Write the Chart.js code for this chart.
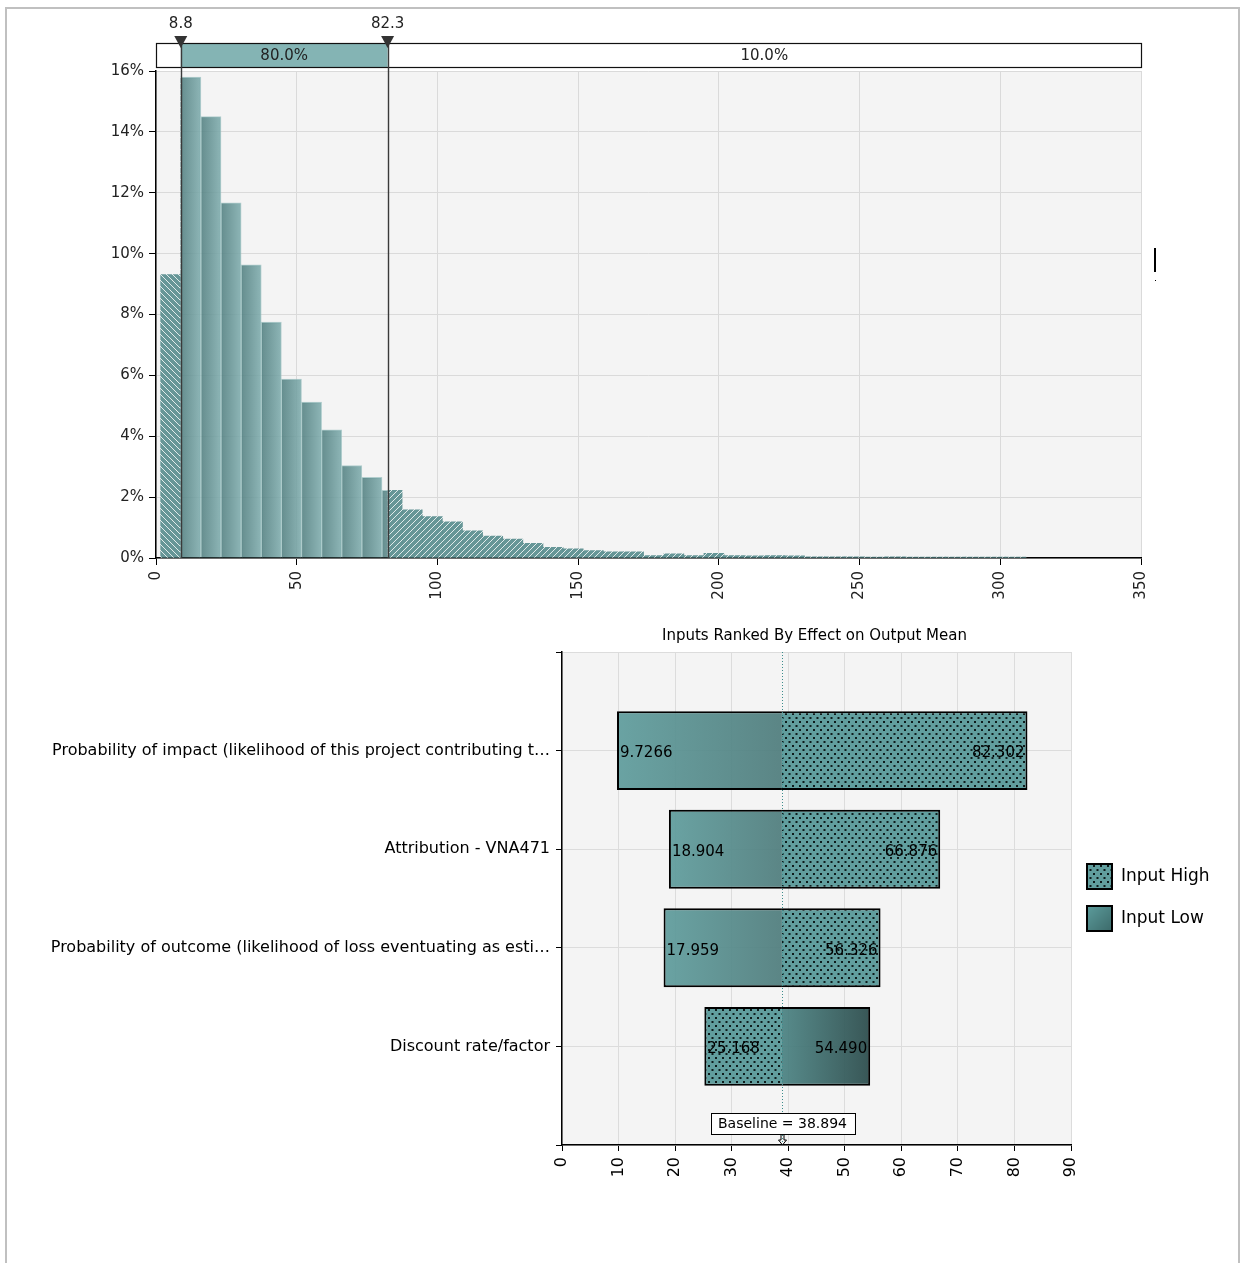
<!DOCTYPE html>
<html>
<head>
<meta charset="utf-8">
<script src="https://cdn.jsdelivr.net/npm/chart.js@4.4.1/dist/chart.umd.min.js"></script>
<style>
  body { margin: 0; background: #fff; width: 1240px; height: 1263px; overflow: hidden; position: relative; }
  #frame { position: absolute; left: 5px; top: 7px; width: 1231px; height: 1300px;
           border-top: 2px solid #c0c0c0; border-left: 2px solid #c0c0c0; border-right: 2px solid #c0c0c0; }
  #histWrap { position: absolute; left: 0; top: 0; }
  #tornadoWrap { position: absolute; left: 0; top: 600px; }
</style>
</head>
<body>
<div id="frame"></div>
<div id="histWrap"><canvas id="hist" width="1240" height="615"></canvas></div>
<div id="tornadoWrap"><canvas id="tornado" width="1240" height="600"></canvas></div>
<script>
// ---- histogram data (percent of iterations per bin) ----
var binStart = 1.65;
var binWidth = 7.15;
var binPercents = [9.31, 15.8, 14.5, 11.67, 9.63, 7.75, 5.88, 5.12, 4.21, 3.04, 2.65, 2.22,
                   1.58, 1.36, 1.19, 0.89, 0.72, 0.62, 0.48, 0.35, 0.30, 0.24, 0.20, 0.20,
                   0.08, 0.14, 0.08, 0.15, 0.08, 0.07, 0.08, 0.07, 0.04, 0.04, 0.04, 0.03,
                   0.04, 0.03, 0.03, 0.03, 0.03, 0.03, 0.03];
var cutoffs = [8.8, 82.3];
var bandLabels = ['', '80.0%', '10.0%'];

// ---- tornado data ----
var inputNames = [
  'Probability of impact (likelihood of this project contributing t\u2026',
  'Attribution - VNA471',
  'Probability of outcome (likelihood of loss eventuating as esti\u2026',
  'Discount rate/factor'
];
var lowOutputs = [9.7266, 18.904, 17.959, 54.490];
var highOutputs = [82.302, 66.876, 56.326, 25.168];
var baseline = 38.894;

var FONT = '"DejaVu Sans", Verdana, sans-serif';

// fills
function makeHatch(ctx, dir) {
  var c = document.createElement('canvas');
  c.width = 6; c.height = 6;
  var g = c.getContext('2d');
  g.fillStyle = 'rgba(86,140,141,0.9)';
  g.fillRect(0, 0, 6, 6);
  g.strokeStyle = 'rgba(255,255,255,0.8)';
  g.lineWidth = 1;
  g.beginPath();
  if (dir > 0) {
    g.moveTo(0, 6); g.lineTo(6, 0);
    g.moveTo(-1, 1); g.lineTo(1, -1);
    g.moveTo(5, 7); g.lineTo(7, 5);
  } else {
    g.moveTo(0, 0); g.lineTo(6, 6);
    g.moveTo(-1, 5); g.lineTo(1, 7);
    g.moveTo(5, -1); g.lineTo(7, 1);
  }
  g.stroke();
  return ctx.createPattern(c, 'repeat');
}

function makeDots(ctx) {
  var c = document.createElement('canvas');
  c.width = 7; c.height = 8;
  var g = c.getContext('2d');
  g.fillStyle = 'rgba(84,150,150,0.92)';
  g.fillRect(0, 0, 7, 8);
  g.fillStyle = '#0e1c1c';
  g.fillRect(1, 1, 2, 2);
  g.fillRect(4.5, 5, 2, 2);
  return ctx.createPattern(c, 'repeat');
}

// horizontal gradient between two pixel positions, or null before layout
function hGradient(ctx, l, r, c0, c1) {
  if (!isFinite(l) || !isFinite(r) || l === r) return null;
  var g = ctx.createLinearGradient(l, 0, r, 0);
  g.addColorStop(0, c0);
  g.addColorStop(1, c1);
  return g;
}

// plot area background
var plotBackground = {
  id: 'plotBackground',
  beforeDraw: function(chart) {
    var a = chart.chartArea, ctx = chart.ctx;
    ctx.save();
    ctx.fillStyle = '#f4f4f4';
    ctx.fillRect(a.left, a.top, a.right - a.left, a.bottom - a.top);
    ctx.restore();
  }
};

// ================= histogram =================
var histCtx = document.getElementById('hist').getContext('2d');
var hatchLeft = makeHatch(histCtx, -1);
var hatchRight = makeHatch(histCtx, 1);

var binCenters = binPercents.map(function(v, i) { return binStart + binWidth * (i + 0.5); });
var histPoints = binPercents.map(function(v, i) { return { x: binCenters[i], y: v }; });

// dataset 0 (solid) shows only between the cutoffs, dataset 1 (hatched) only outside them
var cutoffClip = {
  id: 'cutoffClip',
  beforeDatasetDraw: function(chart, args) {
    var xs = chart.scales.x, a = chart.chartArea, ctx = chart.ctx;
    var l = xs.getPixelForValue(cutoffs[0]), r = xs.getPixelForValue(cutoffs[1]);
    var t = a.top - 2, h = a.bottom - a.top + 4;
    ctx.save();
    ctx.beginPath();
    if (args.index === 0) {
      ctx.rect(l, t, r - l, h);
    } else {
      ctx.rect(a.left, t, l - a.left, h);
      ctx.rect(r, t, a.right - r, h);
    }
    ctx.clip();
  },
  afterDatasetDraw: function(chart) {
    chart.ctx.restore();
  }
};

var cutoffBand = {
  id: 'cutoffBand',
  afterDraw: function(chart) {
    var xs = chart.scales.x, a = chart.chartArea, ctx = chart.ctx;
    var x0 = xs.getPixelForValue(0), x3 = xs.getPixelForValue(350);
    var x1 = xs.getPixelForValue(cutoffs[0]), x2 = xs.getPixelForValue(cutoffs[1]);
    var top = a.top - 28, bot = a.top - 4;
    ctx.save();
    ctx.fillStyle = '#ffffff';
    ctx.fillRect(x0, top, x3 - x0, bot - top);
    ctx.fillStyle = '#84b4b4';
    ctx.fillRect(x1, top, x2 - x1, bot - top);
    ctx.strokeStyle = '#111';
    ctx.lineWidth = 1.2;
    ctx.strokeRect(x0 + 0.5, top + 0.5, x3 - x0, bot - top);

    // cutoff lines
    ctx.strokeStyle = '#3a3a3a';
    ctx.lineWidth = 1.4;
    [x1, x2].forEach(function(x) {
      ctx.beginPath();
      ctx.moveTo(Math.round(x) + 0.5, top);
      ctx.lineTo(Math.round(x) + 0.5, a.bottom);
      ctx.stroke();
    });

    ctx.fillStyle = '#222';
    ctx.font = '15px ' + FONT;
    ctx.textAlign = 'center';
    ctx.textBaseline = 'middle';
    var edges = [x0, x1, x2, x3];
    for (var i = 0; i < bandLabels.length; i++) {
      if (bandLabels[i]) ctx.fillText(bandLabels[i], (edges[i] + edges[i + 1]) / 2, (top + bot) / 2 + 1);
    }

    // markers and cutoff values
    [x1, x2].forEach(function(x, i) {
      ctx.fillStyle = '#333';
      ctx.beginPath();
      ctx.moveTo(x - 6.5, top - 7);
      ctx.lineTo(x + 6.5, top - 7);
      ctx.lineTo(x, top + 5);
      ctx.closePath();
      ctx.fill();
      ctx.fillStyle = '#222';
      ctx.fillText(String(cutoffs[i]), x, top - 19);
    });

    // small cursor mark at the right
    ctx.fillStyle = '#000';
    ctx.fillRect(1154, 248, 2, 24);
    ctx.fillRect(1155, 280, 1, 1);
    ctx.restore();
  }
};

new Chart(histCtx, {
  type: 'bar',
  data: {
    datasets: [
      {
        label: 'middle',
        data: histPoints,
        grouped: false,
        barPercentage: 1,
        categoryPercentage: 1,
        borderWidth: 1,
        borderColor: 'rgba(150,190,190,0.7)',
        backgroundColor: function(c) {
          var xs = c.chart.scales.x;
          if (c.type !== 'data' || !xs) return 'rgba(100,150,150,0.9)';
          var g = hGradient(c.chart.ctx,
            xs.getPixelForValue(binStart + binWidth * c.dataIndex),
            xs.getPixelForValue(binStart + binWidth * (c.dataIndex + 1)),
            'rgba(80,126,127,0.87)', 'rgba(126,172,173,0.87)');
          return g || 'rgba(100,150,150,0.9)';
        }
      },
      {
        label: 'tails',
        data: histPoints,
        grouped: false,
        barPercentage: 1,
        categoryPercentage: 1,
        borderWidth: 0,
        backgroundColor: function(c) { return c.dataIndex === 0 ? hatchLeft : hatchRight; }
      }
    ]
  },
  options: {
    responsive: false,
    animation: false,
    layout: { padding: { left: 0, right: 99, top: 71, bottom: 0 } },
    plugins: { legend: { display: false }, tooltip: { enabled: false } },
    scales: {
      x: {
        type: 'linear',
        min: 0, max: 350,
        offset: false,
        ticks: { stepSize: 50, minRotation: 90, maxRotation: 90, color: '#222', padding: 6, font: { family: FONT, size: 15 } },
        grid: { offset: false, color: '#dadada', tickColor: '#000', tickLength: 7, lineWidth: 1 },
        border: { color: '#000', width: 1.5 },
        afterFit: function(s) { s.height = 57; }
      },
      y: {
        min: 0, max: 16,
        ticks: { stepSize: 2, color: '#222', padding: 5, font: { family: FONT, size: 15 },
                 callback: function(v) { return v + '%'; } },
        grid: { color: '#dadada', tickColor: '#000', tickLength: 7, lineWidth: 1 },
        border: { color: '#000', width: 1.5 },
        afterFit: function(s) { s.width = 156; }
      }
    }
  },
  plugins: [plotBackground, cutoffClip, cutoffBand]
});

// ================= tornado =================
var torCtx = document.getElementById('tornado').getContext('2d');
var dots = makeDots(torCtx);

function span(v) { return [Math.min(v, baseline), Math.max(v, baseline)]; }
var rowLabels = [''].concat(inputNames, ['']);
var lowData = [null].concat(lowOutputs.map(span), [null]);
var highData = [null].concat(highOutputs.map(span), [null]);

function skipAtBaseline(c) {
  if (!c.raw) return 'left';
  return c.raw[1] === baseline ? 'right' : 'left';
}

function lowFill(c) {
  var xs = c.chart.scales.x;
  var fallback = 'rgba(80,130,130,0.9)';
  if (c.type !== 'data' || !c.raw || !xs) return fallback;
  var l = xs.getPixelForValue(c.raw[0]), r = xs.getPixelForValue(c.raw[1]);
  var g = c.raw[1] === baseline
    ? hGradient(c.chart.ctx, l, r, 'rgba(94,156,156,0.92)', 'rgba(78,124,124,0.92)')
    : hGradient(c.chart.ctx, l, r, 'rgba(74,130,130,0.92)', 'rgba(46,78,78,0.95)');
  return g || fallback;
}

var tornadoExtras = {
  id: 'tornadoExtras',
  afterDatasetsDraw: function(chart) {
    var xs = chart.scales.x, a = chart.chartArea, ctx = chart.ctx;
    var bx = Math.round(xs.getPixelForValue(baseline)) + 0.5;
    ctx.save();

    // baseline
    ctx.strokeStyle = '#3c8c8c';
    ctx.lineWidth = 1;
    ctx.setLineDash([1, 2]);
    ctx.beginPath();
    ctx.moveTo(bx, a.top);
    ctx.lineTo(bx, a.bottom);
    ctx.stroke();
    ctx.setLineDash([]);

    // values at the outer end of each segment
    ctx.font = '15px ' + FONT;
    ctx.fillStyle = '#000';
    ctx.textBaseline = 'middle';
    [[0, lowOutputs], [1, highOutputs]].forEach(function(pair) {
      var meta = chart.getDatasetMeta(pair[0]);
      pair[1].forEach(function(v, i) {
        var el = meta.data[i + 1];
        var p = xs.getPixelForValue(v);
        if (v < baseline) { ctx.textAlign = 'left'; ctx.fillText(v.toPrecision(5), p + 3, el.y + 3); }
        else { ctx.textAlign = 'right'; ctx.fillText(v.toPrecision(5), p - 3, el.y + 3); }
      });
    });

    // baseline label with arrow
    var w = 144, h = 21, top = a.bottom - 32;
    ctx.fillStyle = '#fff';
    ctx.fillRect(bx - w / 2, top, w, h);
    ctx.strokeStyle = '#000';
    ctx.lineWidth = 1;
    ctx.strokeRect(Math.round(bx - w / 2) + 0.5, top + 0.5, w, h);
    ctx.fillStyle = '#000';
    ctx.font = '14px ' + FONT;
    ctx.textAlign = 'center';
    ctx.fillText('Baseline = ' + baseline.toFixed(3), bx, top + h / 2 + 1);
    ctx.beginPath();
    ctx.moveTo(bx - 1.5, top + h + 1); ctx.lineTo(bx - 1.5, a.bottom - 5);
    ctx.lineTo(bx - 4, a.bottom - 5); ctx.lineTo(bx, a.bottom);
    ctx.lineTo(bx + 4, a.bottom - 5); ctx.lineTo(bx + 1.5, a.bottom - 5);
    ctx.lineTo(bx + 1.5, top + h + 1);
    ctx.stroke();
    ctx.restore();
  },
  afterDraw: function(chart) {
    var a = chart.chartArea, ctx = chart.ctx;
    ctx.save();
    // title
    ctx.fillStyle = '#000';
    ctx.font = '15px ' + FONT;
    ctx.textAlign = 'center';
    ctx.textBaseline = 'middle';
    ctx.fillText('Inputs Ranked By Effect on Output Mean', (a.left + a.right) / 2 - 2, a.top - 16);

    // legend
    var items = [['Input High', dots], ['Input Low', null]];
    ctx.font = '17px ' + FONT;
    ctx.textAlign = 'left';
    items.forEach(function(it, i) {
      var x = 1087, y = 264 + i * 42, s = 25;
      if (it[1]) {
        ctx.fillStyle = it[1];
      } else {
        var g = ctx.createLinearGradient(x, y, x + s, y + s);
        g.addColorStop(0, '#5c9c9c');
        g.addColorStop(1, '#3c6a6a');
        ctx.fillStyle = g;
      }
      ctx.fillRect(x, y, s, s);
      ctx.strokeStyle = '#000';
      ctx.lineWidth = 2;
      ctx.strokeRect(x, y, s, s);
      ctx.fillStyle = '#000';
      ctx.fillText(it[0], x + 34, y + s / 2);
    });
    ctx.restore();
  }
};

new Chart(torCtx, {
  type: 'bar',
  data: {
    labels: rowLabels,
    datasets: [
      {
        label: 'Input Low',
        data: lowData,
        grouped: false,
        barPercentage: 0.8,
        categoryPercentage: 1,
        borderWidth: 2,
        borderColor: '#000',
        borderSkipped: skipAtBaseline,
        backgroundColor: lowFill
      },
      {
        label: 'Input High',
        data: highData,
        grouped: false,
        barPercentage: 0.8,
        categoryPercentage: 1,
        borderWidth: 2,
        borderColor: '#000',
        borderSkipped: skipAtBaseline,
        backgroundColor: dots
      }
    ]
  },
  options: {
    indexAxis: 'y',
    responsive: false,
    animation: false,
    layout: { padding: { left: 0, right: 169, top: 52, bottom: 0 } },
    plugins: { legend: { display: false }, tooltip: { enabled: false } },
    scales: {
      x: {
        type: 'linear',
        min: 0, max: 90,
        ticks: { stepSize: 10, minRotation: 90, maxRotation: 90, color: '#000', padding: 6, font: { family: FONT, size: 16 } },
        grid: { color: '#dcdcdc', tickColor: '#000', tickLength: 6 },
        border: { color: '#000', width: 1.5 },
        afterFit: function(s) { s.height = 55; }
      },
      y: {
        type: 'category',
        offset: false,
        ticks: { color: '#000', padding: 6, autoSkip: false, font: { family: FONT, size: 16 } },
        grid: { offset: false, color: '#dcdcdc', tickColor: '#000', tickLength: 6 },
        border: { color: '#000', width: 1.5 },
        afterFit: function(s) { s.width = 562; }
      }
    }
  },
  plugins: [plotBackground, tornadoExtras]
});
</script>
</body>
</html>
